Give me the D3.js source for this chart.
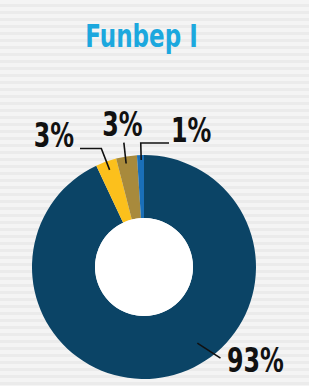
<!DOCTYPE html>
<html>
<head>
<meta charset="utf-8">
<script src="https://cdn.jsdelivr.net/npm/d3@7"></script>
<style>
  html, body { margin: 0; padding: 0; background: #f3f3f3; }
  svg { display: block; }
  text { font-family: "Liberation Sans Narrow", "DejaVu Sans Condensed", "Arial Narrow", sans-serif; font-weight: bold; }
</style>
</head>
<body>
<svg id="chart" width="309" height="386"></svg>
<script>
// ---- data ----
const title = "Funbep I";
const categories = ["A", "B", "C", "D"];
const values = [93, 3, 3, 1];
const labels = ["93%", "3%", "3%", "1%"];
const colors = ["#0b4466", "#fcc01c", "#a88a3c", "#1a6fb8"];

// ---- layout (styles/positions) ----
const W = 309, H = 386;
const cx = 144, cy = 267, outerR = 112, innerR = 49;
const sx = 0.8; // horizontal condensing of text
// leader lines: polar points [angleDeg, radius], optional horizontal end x; label anchor
const leaderCfg = [
  { pts: [[145, 93], [140, 119]], hx: null, tx: 227, ty: 372, anchor: "start" },
  { pts: [[340.5, 103], [340.2, 126]], hx: 80, tx: 74, ty: 147, anchor: "end" },
  { pts: [[350.2, 105], [350.8, 126]], hx: null, tx: 122.5, ty: 136, anchor: "middle" },
  { pts: [[358.5, 107], [358.5, 124]], hx: 169, tx: 171, ty: 142, anchor: "start" }
];

const svg = d3.select("#chart");

// striped background
const defs = svg.append("defs");
const pat = defs.append("pattern").attr("id", "stripes")
  .attr("patternUnits", "userSpaceOnUse").attr("width", 10).attr("height", 7);
pat.append("rect").attr("width", 10).attr("height", 7).attr("fill", "#f4f4f4");
pat.append("rect").attr("y", 4).attr("width", 10).attr("height", 3).attr("fill", "#ebebeb");
svg.append("rect").attr("width", W).attr("height", H).attr("fill", "url(#stripes)");

// title
svg.append("text").attr("transform", `translate(141.5,47) scale(${sx},1)`).attr("text-anchor", "middle")
  .attr("font-size", 32).attr("fill", "#1ca8de").text(title);

// pie
const data = categories.map((c, i) => ({ cat: c, value: values[i], label: labels[i], color: colors[i], cfg: leaderCfg[i] }));
const pie = d3.pie().value(d => d.value).sort(null).startAngle(0).endAngle(2 * Math.PI);
const arc = d3.arc().innerRadius(innerR).outerRadius(outerR);
const arcs = pie(data);

const g = svg.append("g").attr("transform", `translate(${cx},${cy})`);
g.selectAll("path.slice").data(arcs).join("path").attr("class", "slice")
  .attr("d", arc).attr("fill", d => d.data.color);
g.append("circle").attr("r", innerR).attr("fill", "#ffffff");

// leaders + labels
const polar = (a, r) => [r * Math.sin(a * Math.PI / 180), -r * Math.cos(a * Math.PI / 180)];
arcs.forEach(d => {
  const c = d.data.cfg;
  const p = c.pts.map(q => polar(q[0], q[1]));
  if (c.hx !== null) p.push([c.hx - cx, p[p.length - 1][1]]);
  g.append("path").attr("d", d3.line()(p)).attr("fill", "none")
    .attr("stroke", "#111").attr("stroke-width", 1.6);
  svg.append("text").attr("transform", `translate(${c.tx},${c.ty}) scale(${sx},1)`)
    .attr("text-anchor", c.anchor)
    .attr("font-size", 33).attr("fill", "#111").text(d.data.label);
});
</script>
</body>
</html>
